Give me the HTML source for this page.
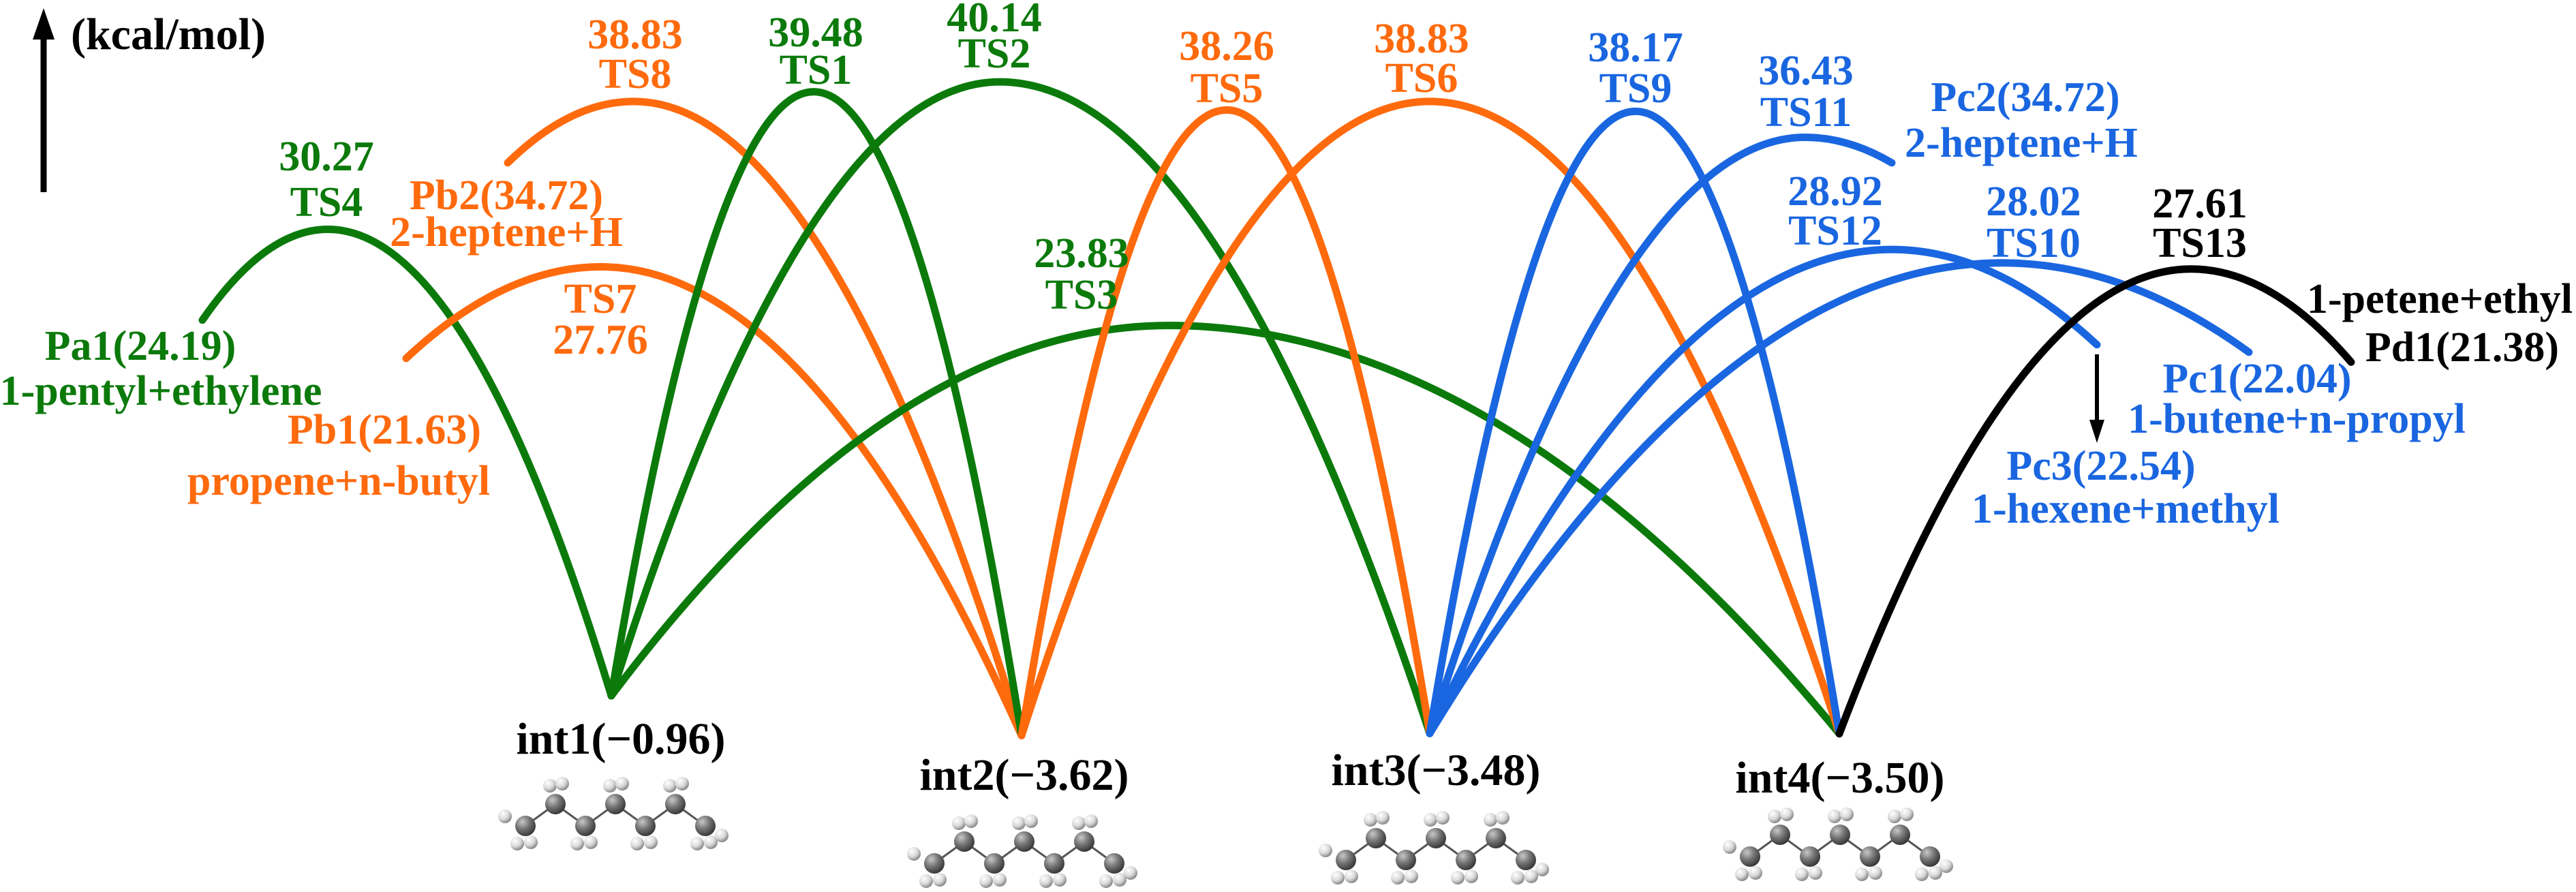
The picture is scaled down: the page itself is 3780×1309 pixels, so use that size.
<!DOCTYPE html>
<html><head><meta charset="utf-8"><style>
html,body{margin:0;padding:0;background:#fff;}
svg{display:block;}
text{font-family:"Liberation Serif","Times New Roman","DejaVu Serif Condensed","DejaVu Serif",serif;font-weight:bold;}
</style></head><body>
<svg id="chart" width="3780" height="1309" viewBox="0 0 3780 1309" xmlns="http://www.w3.org/2000/svg">
<defs>
<radialGradient id="gC" cx="35%" cy="30%" r="70%"><stop offset="0" stop-color="#c8c8c8"/><stop offset="0.5" stop-color="#777"/><stop offset="1" stop-color="#3a3a3a"/></radialGradient>
<radialGradient id="gH" cx="35%" cy="30%" r="70%"><stop offset="0" stop-color="#ffffff"/><stop offset="0.6" stop-color="#d8d8d8"/><stop offset="1" stop-color="#8a8a8a"/></radialGradient>
</defs>
<g id="axis">
<line x1="64" y1="282" x2="64" y2="50" stroke="#000" stroke-width="9"/>
<polygon points="64,12 48,58 80,58" fill="#000"/>
<text x="104" y="72" font-size="66">(kcal/mol)</text>
</g>
<g id="curves"></g>
<g id="labels"></g>
<g id="mols"></g>
</svg>
<script>
// Energies (kcal/mol)
const intNames = ["int1","int2","int3","int4"];
const intEnergy = [-0.96, -3.62, -3.48, -3.50];
const prodNames = ["Pa1","Pb1","Pb2","Pc2","Pc3","Pc1","Pd1"];
const prodEnergy = [24.19, 21.63, 34.72, 34.72, 22.54, 22.04, 21.38];
const prodDesc = ["1-pentyl+ethylene","propene+n-butyl","2-heptene+H","2-heptene+H","1-hexene+methyl","1-butene+n-propyl","1-petene+ethyl"];
const tsNames = ["TS4","TS7","TS8","TS1","TS2","TS3","TS5","TS6","TS9","TS11","TS12","TS10","TS13"];
const tsEnergy = [30.27, 27.76, 38.83, 39.48, 40.14, 23.83, 38.26, 38.83, 38.17, 36.43, 28.92, 28.02, 27.61];
// connections: "iN" = intermediate index, "pN" = product index
const tsFrom = ["p0","p1","p2","i0","i0","i0","i1","i1","i2","i2","i2","i2","i3"];
const tsTo   = ["i0","i1","i1","i1","i2","i3","i2","i3","i3","p3","p4","p5","p6"];
const tsColor = ["#0b7a0b","#ff6a0d","#ff6a0d","#0b7a0b","#0b7a0b","#0b7a0b","#ff6a0d","#ff6a0d","#1a66e0","#1a66e0","#1a66e0","#1a66e0","#000"];

// layout (pixel positions, not data)
const intX = [897, 1499, 2098, 2699];
const prodX = [297, 596, 745, 2776, 3077, 3300, 3450];
const tsX = [481, 882, 930, 1194, 1467, 1715, 1800, 2098, 2400, 2649, 2776, 2938, 3215];

const Y0 = 1000, K = 21.92;
function yE(e){ return Y0 - e*K; }
const NS = "http://www.w3.org/2000/svg";
function mk(tag, attrs, parent){ const el=document.createElementNS(NS,tag); for(const k in attrs) el.setAttribute(k,attrs[k]); parent.appendChild(el); return el; }
function pt(ref){ const i=+ref.slice(1); return ref[0]==="i" ? [intX[i], yE(intEnergy[i])] : [prodX[i], yE(prodEnergy[i])]; }

const gC=document.getElementById("curves");
for(let t=0;t<tsNames.length;t++){
  const a=pt(tsFrom[t]), b=pt(tsTo[t]);
  const px=tsX[t], py=yE(tsEnergy[t]);
  const d=`M${a[0]},${a[1]} Q${(a[0]+px)/2},${py} ${px},${py} Q${(b[0]+px)/2},${py} ${b[0]},${b[1]}`;
  const p=mk("path",{d:d,fill:"none",stroke:tsColor[t],"stroke-width":11,"stroke-linecap":"round","stroke-linejoin":"miter"},gC);
  
  
}
const ar=mk("line",{x1:3077,y1:520,x2:3077,y2:620,stroke:"#000","stroke-width":6},gC);


const ah=mk("polygon",{points:"3077,650 3066,616 3088,616",fill:"#000"},gC);



const gL=document.getElementById("labels");
function lab(txt,x,y,col,fs,name){
  const t=mk("text",{x:x,y:y,fill:col,"font-size":fs||62,"text-anchor":"middle"},gL);
  t.textContent=txt;
  
  
}
const G="#0b7a0b",O="#ff6a0d",B="#1a66e0",K0="#000";
const tsLab = {
  TS4:[479,250,317,G], TS7:[881,519,459,O], TS8:[932,71,129,O], TS1:[1197,68,123,G],
  TS2:[1459,46,99,G], TS3:[1587,392,453,G], TS5:[1800,88,150,O], TS6:[2086,77,135,O],
  TS9:[2400,90,150,B], TS11:[2650,124,185,B], TS12:[2693,301,359,B], TS10:[2984,316,377,B], TS13:[3228,319,377,K0]
};
for(let t=0;t<tsNames.length;t++){
  const L=tsLab[tsNames[t]];
  lab(tsEnergy[t].toFixed(2), L[0], L[1], L[3], 62, 'energy-'+tsNames[t].toLowerCase());
  lab(tsNames[t], L[0], L[2], L[3], 62, 'label-'+tsNames[t].toLowerCase());
}
const prodLab = [
  [206,528,236,594,G],[564,651,497,726,O],[743,307,743,361,O],[2972,163,2966,230,B],
  [3083,704,3119,767,B],[3312,576,3370,635,B],[3613,530,3580,459,K0]
];
for(let i=0;i<prodNames.length;i++){
  const L=prodLab[i];
  lab(prodNames[i]+"("+prodEnergy[i].toFixed(2)+")", L[0], L[1], L[4], 62, 'label-'+prodNames[i].toLowerCase());
  lab(prodDesc[i], L[2], L[3], L[4], 62, 'desc-'+prodNames[i].toLowerCase());
}
const intLabX=[911,1503,2107,2700], intLabY=[1106,1159,1152,1163];
for(let i=0;i<4;i++){
  lab(intNames[i]+"(\u2212"+Math.abs(intEnergy[i]).toFixed(2)+")", intLabX[i], intLabY[i], "#000", 66, 'label-'+intNames[i]);
}

const gM=document.getElementById("mols");
const molCX=[903,1503,2107,2700], molCY=[1200,1255,1250,1245];
for(let m=0;m<4;m++){
  const g=mk("g",{},gM);
  
  
  const cs=[];
  for(let k=0;k<7;k++){ cs.push([molCX[m]+(k-3)*44, molCY[m]+(k%2===0?12:-20)]); }
  for(let k=0;k<6;k++) mk("line",{x1:cs[k][0],y1:cs[k][1],x2:cs[k+1][0],y2:cs[k+1][1],stroke:"#555","stroke-width":3},g);
  for(let k=0;k<7;k++){
    const c=cs[k], up=(k%2===1);
    const hs = up ? [[-8,-27],[10,-30]] : [[-12,26],[8,24]];
    if(k===0) hs.push([-30,-14]);
    if(k===6) hs.push([24,14]);
    for(const h of hs) if(up) mk("circle",{cx:c[0]+h[0],cy:c[1]+h[1],r:10,fill:"url(#gH)"},g);
    mk("circle",{cx:c[0],cy:c[1],r:15,fill:"url(#gC)"},g);
    for(const h of hs) if(!up) mk("circle",{cx:c[0]+h[0],cy:c[1]+h[1],r:10,fill:"url(#gH)"},g);
  }
}
</script>
</body></html>
